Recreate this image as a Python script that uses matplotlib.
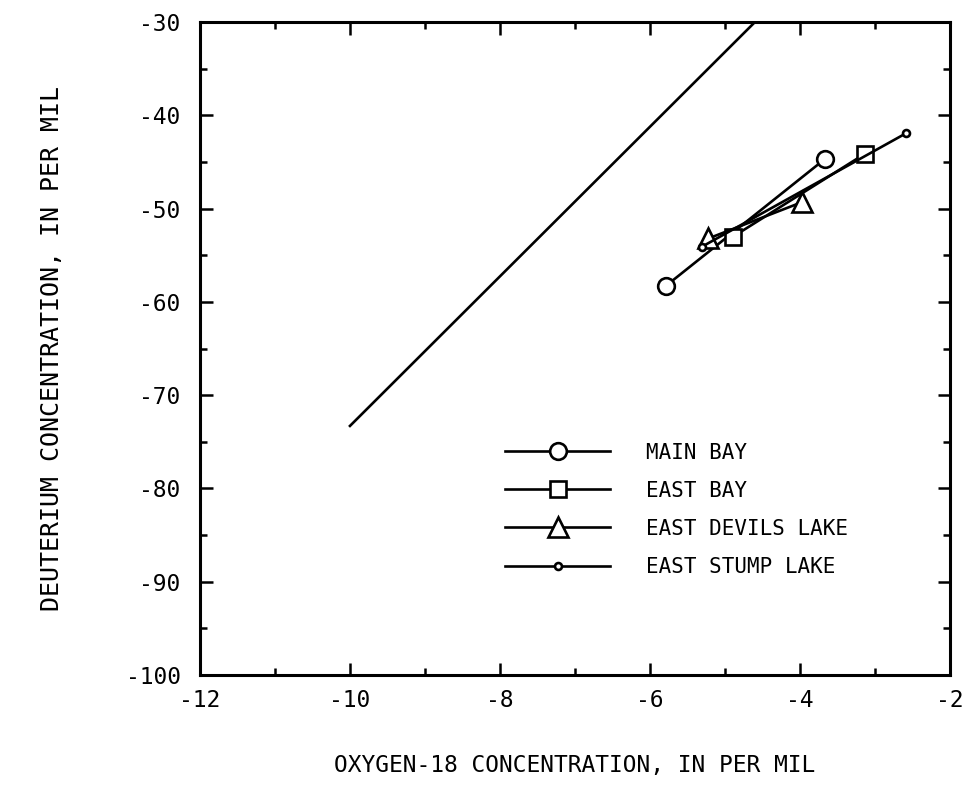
import matplotlib
matplotlib.use("Agg")
import matplotlib.pyplot as plt
from matplotlib.ticker import MultipleLocator

plt.rcParams['font.family'] = ['DejaVu Sans Mono']
plt.rcParams['axes.unicode_minus'] = False

# delta values, per mil (oxygen-18, deuterium)
meteoric_o18 = [-10.0, -4.6]
meteoric_d = [-73.3, -30.0]

main_bay_o18 = [-5.79, -3.67]
main_bay_d = [-58.3, -44.7]

east_bay_o18 = [-4.89, -3.13]
east_bay_d = [-53.0, -44.1]

devils_o18 = [-5.22, -3.97]
devils_d = [-53.2, -49.3]

stump_o18 = [-5.31, -2.58]
stump_d = [-54.1, -41.9]

series = [
    ("MAIN BAY", main_bay_o18, main_bay_d, "o", 12),
    ("EAST BAY", east_bay_o18, east_bay_d, "s", 11),
    ("EAST DEVILS LAKE", devils_o18, devils_d, "^", 14),
    ("EAST STUMP LAKE", stump_o18, stump_d, "o", 5),
]

fig = plt.figure(figsize=(9.67, 8.07), dpi=100)
ax = fig.add_axes([0.2068, 0.1636, 0.7756, 0.8091])

ax.plot(meteoric_o18, meteoric_d, color="black", lw=1.9)

for name, xs, ys, mk, ms in series:
    ax.plot(xs, ys, color="black", lw=1.9, marker=mk, markersize=ms,
            markerfacecolor="white", markeredgecolor="black",
            markeredgewidth=1.9, label=name)

ax.set_xlim(-12, -2)
ax.set_ylim(-100, -30)
ax.xaxis.set_major_locator(MultipleLocator(2))
ax.xaxis.set_minor_locator(MultipleLocator(1))
ax.yaxis.set_major_locator(MultipleLocator(10))
ax.yaxis.set_minor_locator(MultipleLocator(5))
ax.tick_params(which="both", direction="in", top=True, right=True,
               width=1.8, labelsize=16.5)
ax.tick_params(which="major", length=9, pad=10)
ax.tick_params(which="minor", length=5)
ax.tick_params(axis="y", pad=14)
for sp in ax.spines.values():
    sp.set_linewidth(2.2)

ax.set_xlabel("OXYGEN-18 CONCENTRATION, IN PER MIL", fontsize=16.5,
              labelpad=30)
ax.set_ylabel("DEUTERIUM CONCENTRATION, IN PER MIL", fontsize=18,
              labelpad=44)

ax.legend(loc="upper left", bbox_to_anchor=(0.4067, 0.356), frameon=False,
          fontsize=15, handlelength=5.05, handletextpad=1.7,
          labelspacing=0.87, borderpad=0, borderaxespad=0)

fig.savefig("out.png", dpi=100)
